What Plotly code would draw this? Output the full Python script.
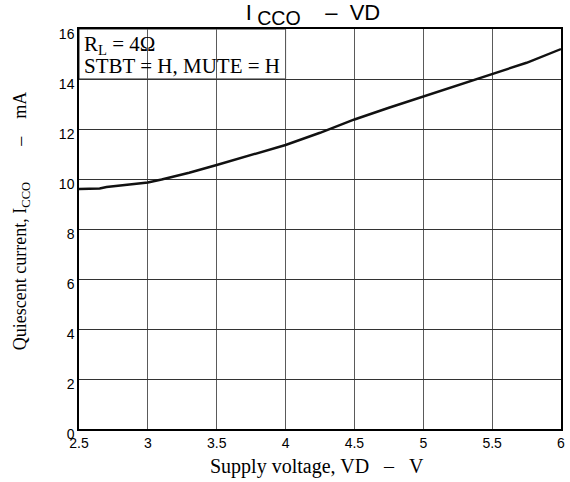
import plotly.graph_objects as go

# supply voltage (V) and quiescent current (mA)
vd = [2.5, 2.6, 2.65, 2.7, 2.8, 2.9, 3.0, 3.1, 3.2, 3.3, 3.5, 3.75, 4.0,
      4.25, 4.5, 4.75, 5.0, 5.25, 5.5, 5.75, 6.0]
icco = [9.6, 9.6, 9.62, 9.68, 9.74, 9.8, 9.86, 9.98, 10.1, 10.25, 10.56,
        10.95, 11.36, 11.85, 12.38, 12.85, 13.3, 13.75, 14.22, 14.65, 15.2]

x_ticks = [2.5, 3, 3.5, 4, 4.5, 5, 5.5, 6]
x_labels = ["2.5", "3", "3.5", "4", "4.5", "5", "5.5", "6"]
y_ticks = [0, 2, 4, 6, 8, 10, 12, 14, 16]

SANS = "Liberation Sans, Arial, sans-serif"
SERIF = "Liberation Serif, Times New Roman, serif"
NB = "&nbsp;"

fig = go.Figure()

fig.add_trace(
    go.Scatter(
        x=vd,
        y=icco,
        mode="lines",
        line=dict(color="#111111", width=2.4),
        showlegend=False,
        hoverinfo="skip",
    )
)

# white box behind the conditions text (hides the grid in the top-left block)
fig.add_shape(
    type="rect",
    xref="x", yref="y",
    x0=2.5, x1=4.0, y0=14, y1=16,
    fillcolor="white",
    line=dict(color="#222222", width=1),
    layer="below",
)

# conditions text, one annotation per line
fig.add_annotation(
    xref="x", yref="y", x=2.5, y=16,
    xanchor="left", yanchor="top", xshift=3, yshift=-1,
    showarrow=False,
    text="R<sub>L</sub> = 4Ω",
    font=dict(family=SERIF, size=21, color="black"),
)
fig.add_annotation(
    xref="x", yref="y", x=2.5, y=16,
    xanchor="left", yanchor="top", xshift=3, yshift=-23,
    showarrow=False,
    text="STBT = H, MUTE = H",
    font=dict(family=SERIF, size=21, color="black"),
)

# axis titles as annotations so they sit where the reference has them
fig.add_annotation(
    xref="paper", yref="paper", x=0.493, y=-0.0925,
    xanchor="center", yanchor="middle", showarrow=False,
    text="Supply voltage, VD" + NB * 3 + "–" + NB * 3 + "V",
    font=dict(family=SERIF, size=20, color="black"),
)
fig.add_annotation(
    xref="paper", yref="paper", x=-0.12, y=0.52,
    xanchor="center", yanchor="middle", showarrow=False, textangle=-90,
    text="Quiescent current, I<sub>CCO</sub>" + NB * 8 + "–" + NB * 4 + "mA",
    font=dict(family=SERIF, size=18, color="black"),
)

fig.update_layout(
    width=570,
    height=482,
    paper_bgcolor="white",
    plot_bgcolor="white",
    margin=dict(l=79, r=9, t=29, b=53, autoexpand=False),
    title=dict(
        text="<span style='font-size:22px'>I</span><sub>" + NB + "CCO</sub>"
             "<span style='font-size:22px'>" + NB * 4 + "–" + NB * 2 + "VD</span>",
        x=0.549, xanchor="center",
        y=1.0, yanchor="top", pad=dict(t=0),
        font=dict(family=SANS, size=28, color="black"),
    ),
    xaxis=dict(
        range=[2.5, 6],
        tickvals=x_ticks,
        ticktext=x_labels,
        showgrid=True,
        gridcolor="#5a5a5a",
        gridwidth=1,
        zeroline=False,
        showline=True,
        linecolor="black",
        linewidth=1.5,
        mirror=True,
        ticks="",
        automargin=False,
        ticklabeloverflow="allow",
        tickfont=dict(family=SANS, size=14, color="black"),
    ),
    yaxis=dict(
        range=[0, 16],
        tickvals=y_ticks,
        showgrid=True,
        gridcolor="#333333",
        gridwidth=1,
        zeroline=False,
        showline=True,
        linecolor="black",
        linewidth=1.5,
        mirror=True,
        ticks="",
        automargin=False,
        ticklabelshift=5,
        tickfont=dict(family=SANS, size=14, color="black"),
    ),
)

# the page's default body margin would shift the figure by 8px
fig.write_html(
    "out.html",
    config={"displayModeBar": False},
    post_script="document.body.style.margin='0px';",
)
